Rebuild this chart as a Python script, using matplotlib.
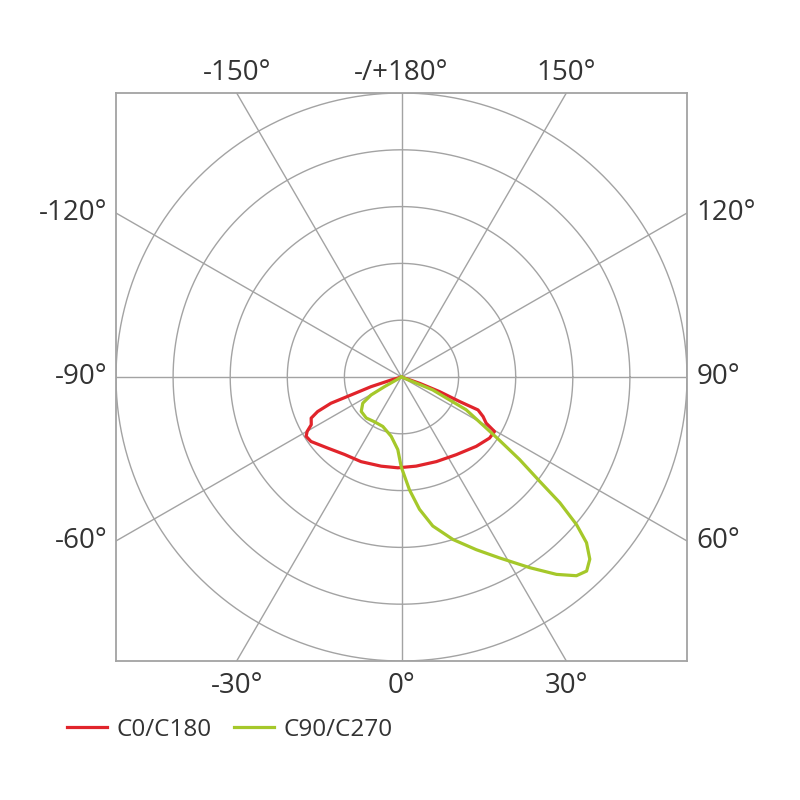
import numpy as np
import matplotlib.pyplot as plt

plt.rcParams['font.family'] = ['Open Sans', 'DejaVu Sans']

# luminous intensity (ring step = 100)
c0_gamma = [-90, -73.8, -72.3, -70.3, -69.5, -67.5, -65.4, -62, -59.9, -58, -54.4, -46,
            -36.2, -25.4, -12.8, -2.3, 9.3, 22.3, 35, 47, 55.1, 59.5, 61.3, 64, 66.6,
            67, 68.9, 70.7, 90]
c0_value = [0, 19, 56, 94, 132, 159, 174, 179, 191, 197, 195, 180,
            169, 165, 161, 160, 159, 161, 167, 179, 188, 189, 169, 159, 146,
            111, 71, 34, 0]

c90_gamma = [-90, -60.3, -59.3, -55.8, -49.3, -40.5, -31.1, -20.6, -9.8, -2.9, -0.2,
             4.0, 7.7, 11.8, 17.5, 23.3, 28.2, 33.8, 38, 41.2, 43.5, 45.8, 48, 49.7,
             51.4, 52.8, 54.9, 57.2, 63, 67.4, 90]
c90_value = [0, 34, 62, 82, 93, 95, 92, 93, 106, 128, 158,
             199, 235, 268, 300, 331, 361, 404, 441, 465, 471, 460, 436, 402,
             355, 304, 253, 201, 127, 59, 0]

tick_angles = [0, 30, 60, 90, 120, 150, 180, -150, -120, -90, -60, -30]
tick_labels = ['0°', '30°', '60°', '90°', '120°', '150°', '-/+180°', '-150°',
               '-120°', '-90°', '-60°', '-30°']
rings = [100, 200, 300, 400, 500]

grid_col = '#a3a3a3'
text_col = '#333333'


def to_xy(gamma, r):
    g = np.radians(gamma)
    r = np.asarray(r, dtype=float)
    return r * np.sin(g), -r * np.cos(g)


fig = plt.figure(figsize=(8, 8), dpi=100)
ax = fig.add_axes([116 / 800, 1 - 661 / 800, 571 / 800, 568 / 800])
ax.set_xlim(-500, 500)
ax.set_ylim(-500, 500)
ax.set_xticks([])
ax.set_yticks([])
for s in ax.spines.values():
    s.set_color(grid_col)
    s.set_linewidth(1.3)

t = np.linspace(0, 2 * np.pi, 400)
for r in rings:
    ax.plot(r * np.cos(t), r * np.sin(t), color=grid_col, lw=1.0, zorder=1)
for a in range(0, 360, 30):
    x, y = to_xy([a, a], [0, 1000])
    ax.plot(x, y, color=grid_col, lw=1.0, zorder=1)

x, y = to_xy(c0_gamma, c0_value)
red, = ax.plot(x, y, color='#e1242b', lw=2.3, zorder=3, label='C0/C180',
               solid_joinstyle='round')
x, y = to_xy(c90_gamma, c90_value)
green, = ax.plot(x, y, color='#a5c82a', lw=2.3, zorder=3, label='C90/C270',
                 solid_joinstyle='round')

# angle labels where the spokes meet the frame
for a, lab in zip(tick_angles, tick_labels):
    g = np.radians(a)
    dx, dy = np.sin(g), -np.cos(g)
    k = 500 / max(abs(dx), abs(dy))
    px, py = dx * k, dy * k
    if abs(dy) >= abs(dx) - 1e-9:
        off = (0, 14.4 if dy > 0 else -18)
        ha = 'center'
    else:
        off = (7 if dx > 0 else -6, 0)
        ha = 'left' if dx > 0 else 'right'
    ax.annotate(lab, (px, py), xytext=off, textcoords='offset points',
                ha=ha, va='center', fontsize=20, color=text_col, annotation_clip=False)

fig.legend(handles=[red, green], loc='center left', bbox_to_anchor=(67 / 800, 1 - 730 / 800),
           ncol=2, frameon=False, fontsize=17.5, handlelength=1.65, handletextpad=0.4,
           columnspacing=0.9, borderpad=0, borderaxespad=0, labelcolor=text_col)

fig.savefig('out.png', dpi=100)
